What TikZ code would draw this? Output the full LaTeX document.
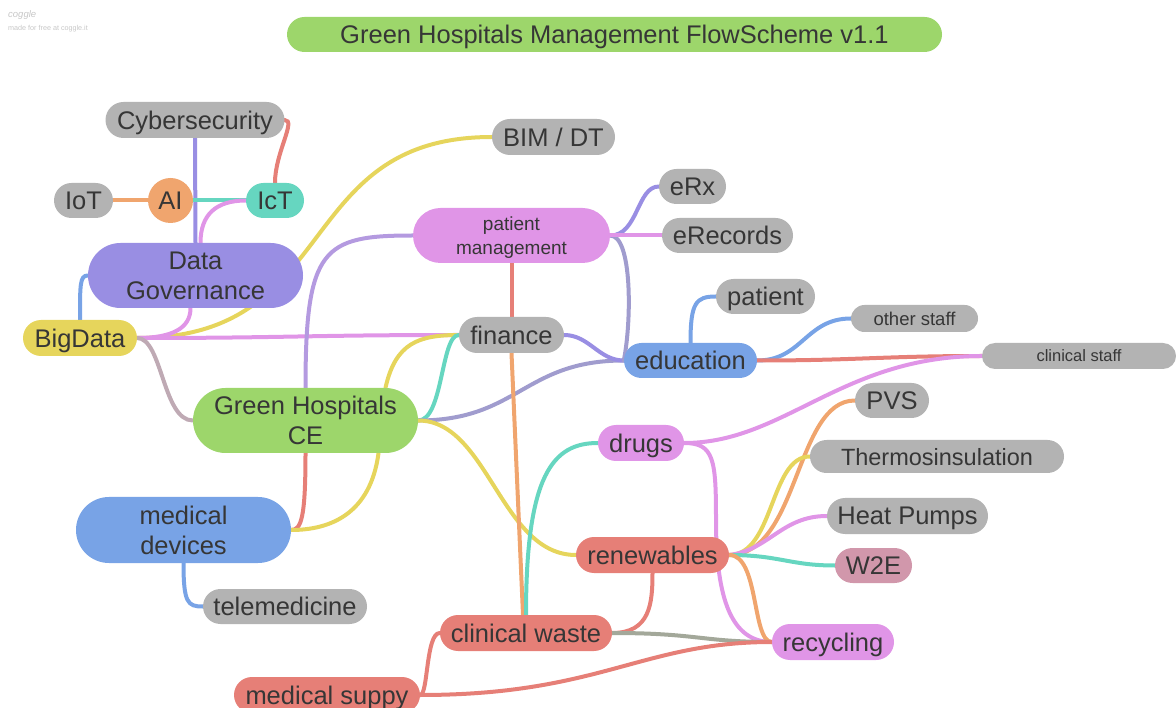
\documentclass[tikz,border=0pt]{standalone}
\usepackage{fontspec}
\setmainfont{Liberation Sans}
\usetikzlibrary{shapes.misc,backgrounds}
\definecolor{cgray}{HTML}{B3B3B3}
\definecolor{cgreen}{HTML}{9DD66B}
\definecolor{cpurple}{HTML}{998EE3}
\definecolor{corange}{HTML}{F0A56E}
\definecolor{cteal}{HTML}{66D6C0}
\definecolor{cyellow}{HTML}{E6D55C}
\definecolor{cpink}{HTML}{E095E7}
\definecolor{cblue}{HTML}{78A3E6}
\definecolor{cred}{HTML}{E67F77}
\definecolor{cmauve}{HTML}{D197AB}
\definecolor{clav}{HTML}{B49AE0}
\definecolor{cmgray}{HTML}{BFAAB4}
\definecolor{cslate}{HTML}{A09CCE}
\definecolor{cgg}{HTML}{A3A89A}
\definecolor{ctext}{HTML}{363636}
\tikzset{
  pill/.style={rounded rectangle, inner sep=0pt, text=ctext, align=center,
    text depth=0pt, font=\fontsize{25.5}{30}\selectfont},
  br/.style={line width=4pt, line cap=round},
}
\begin{document}
\begin{tikzpicture}[x=1pt,y=-1pt]
\useasboundingbox (0,0) rectangle (1176,708);
% watermark
\node[anchor=west, inner sep=0pt, text=black!22, font=\fontsize{9.5}{10}\selectfont\itshape] (wm1) at (8,15) {coggle};
\node[anchor=west, inner sep=0pt, text=black!22, font=\fontsize{7.2}{8}\selectfont] (wm2) at (8,28.5) {made for free at coggle.it};
% nodes
\node[pill, fill=cgreen, minimum width=655, minimum height=35] (title) at (614.5,34.5) {Green Hospitals Management FlowScheme v1.1};
\node[pill, fill=cgray, minimum width=179, minimum height=36] (cyber) at (195,120) {Cybersecurity};
\node[pill, fill=cgray, minimum width=59, minimum height=35] (iot) at (83.5,200.5) {IoT};
\node[pill, fill=corange, minimum width=41, minimum height=45] (ai) at (170.5,200.5) {AI};
\node[pill, fill=cteal, minimum width=58, minimum height=35] (ict) at (275,200.5) {IcT};
\node[pill, fill=cpurple, minimum width=215, minimum height=65] (dg) at (195.5,275.5) {Data\\Governance};
\node[pill, fill=cyellow, minimum width=114, minimum height=36] (bigdata) at (80,338) {BigData};
\node[pill, fill=cgray, minimum width=123, minimum height=36] (bim) at (553.5,137) {BIM / DT};
\node[pill, fill=cpink, minimum width=197, minimum height=55, font=\fontsize{19}{24}\selectfont] (pm) at (511.5,235.5) {patient\\management};
\node[pill, fill=cgray, minimum width=67, minimum height=35] (erx) at (692.5,186.5) {eRx};
\node[pill, fill=cgray, minimum width=131, minimum height=35] (erec) at (727.5,235.5) {eRecords};
\node[pill, fill=cgray, minimum width=105, minimum height=36] (finance) at (511.5,335) {finance};
\node[pill, fill=cblue, minimum width=133, minimum height=35] (edu) at (690.5,360.5) {education};
\node[pill, fill=cgray, minimum width=99, minimum height=35] (patient) at (765.5,296.5) {patient};
\node[pill, fill=cgray, minimum width=127, minimum height=27, font=\fontsize{18.5}{20}\selectfont] (other) at (914.5,318.5) {other staff};
\node[pill, fill=cgray, minimum width=194, minimum height=26, font=\fontsize{16.5}{18}\selectfont] (clin) at (1079,356) {clinical staff};
\node[pill, fill=cgreen, minimum width=225, minimum height=65] (gh) at (305.5,420.5) {Green Hospitals\\CE};
\node[pill, fill=cpink, minimum width=86, minimum height=36] (drugs) at (641,443) {drugs};
\node[pill, fill=cgray, minimum width=74, minimum height=35] (pvs) at (892,400.5) {PVS};
\node[pill, fill=cgray, minimum width=254, minimum height=33, font=\fontsize{23.5}{28}\selectfont] (thermo) at (937,456.5) {Thermosinsulation};
\node[pill, fill=cgray, minimum width=161, minimum height=36] (heat) at (907.5,516) {Heat Pumps};
\node[pill, fill=cmauve, minimum width=77, minimum height=35] (w2e) at (873.5,565.5) {W2E};
\node[pill, fill=cred, minimum width=153, minimum height=36] (ren) at (652.5,555) {renewables};
\node[pill, fill=cblue, minimum width=215, minimum height=66] (md) at (183.5,530) {medical\\devices};
\node[pill, fill=cgray, minimum width=164, minimum height=35] (tele) at (285,606.5) {telemedicine};
\node[pill, fill=cred, minimum width=172, minimum height=36] (cw) at (526,633) {clinical waste};
\node[pill, fill=cpink, minimum width=122, minimum height=36] (rec) at (833,642) {recycling};
\node[pill, fill=cred, minimum width=186, minimum height=36] (ms) at (327,695) {medical suppy};
\coordinate (dbend) at (716,520);
% branches
\begin{pgfonlayer}{background}
\draw[br, cpurple] (cyber.south) -- (dg.north);
\draw[br, cred] (cyber.east) .. controls +(12,0) and +(0,-30) .. (ict.north);
\draw[br, corange] (iot.east) -- (ai.west);
\draw[br, cteal] (ai.east) -- (ict.west);
\draw[br, cpink] (ict.west) .. controls +(-30,0) and +(0,-28) .. ([xshift=5pt]dg.north);
\draw[br, cblue] (bigdata.north) .. controls +(0,-35) and +(-8,0) .. (dg.west);
\draw[br, cyellow] (bigdata.east) .. controls +(205,0) and +(-200,0) .. (bim.west);
\draw[br, cpink] (bigdata.east) .. controls +(35,0) and +(0,20) .. ([xshift=-5pt]dg.south);
\draw[br, cpink] (bigdata.east) .. controls +(150,0) and +(-150,0) .. (finance.west);
\draw[br, cmgray] (bigdata.east) .. controls +(25,0) and +(-30,0) .. (gh.west);
\draw[br, clav] (gh.north) .. controls +(0,-140) and +(-90,0) .. (pm.west);
\draw[br, cyellow] ([xshift=80pt]gh.north) .. controls +(10,-45) and +(-40,0) .. (finance.west);
\draw[br, cteal] (gh.east) .. controls +(25,0) and +(-18,0) .. (finance.west);
\draw[br, cslate] (gh.east) .. controls +(100,0) and +(-100,0) .. (edu.west);
\draw[br, cyellow] (gh.east) .. controls +(70,0) and +(-75,0) .. (ren.west);
\draw[br, cred] (gh.south) .. controls +(0,65) and +(10,0) .. (md.east);
\draw[br, cyellow] ([xshift=73pt]gh.south) .. controls +(-8,60) and +(40,0) .. (md.east);
\draw[br, cblue] (md.south) .. controls +(0,40) and +(-15,0) .. (tele.west);
\draw[br, cred] (pm.south) -- (finance.north);
\draw[br, corange] (finance.south) -- ([xshift=-3pt]cw.north);
\draw[br, cpurple] (finance.east) .. controls +(25,0) and +(-25,0) .. (edu.west);
\draw[br, cslate] (edu.west) .. controls +(8,-40) and +(22,0) .. (pm.east);
\draw[br, cpurple] (pm.east) .. controls +(28,0) and +(-22,0) .. (erx.west);
\draw[br, cpink] (pm.east) -- (erec.west);
\draw[br, cblue] (edu.north) .. controls +(0,-40) and +(-20,0) .. (patient.west);
\draw[br, cblue] (edu.east) .. controls +(45,0) and +(-45,0) .. (other.west);
\draw[br, cred] (edu.east) .. controls +(100,0) and +(-100,0) .. (clin.west);
\draw[br, cpink] (drugs.east) .. controls +(100,0) and +(-140,0) .. (clin.west);
\draw[br, cpink] (drugs.east) .. controls +(30,0) and +(0,-60) .. (dbend) .. controls +(0,80) and +(-40,0) .. (rec.west);
\draw[br, cteal] (cw.north) .. controls +(0,-140) and +(-45,0) .. (drugs.west);
\draw[br, corange] (ren.east) .. controls +(70,0) and +(-60,0) .. (pvs.west);
\draw[br, cyellow] (ren.east) .. controls +(45,0) and +(-40,0) .. (thermo.west);
\draw[br, cpink] (ren.east) .. controls +(40,-5) and +(-45,0) .. (heat.west);
\draw[br, cteal] (ren.east) .. controls +(50,0) and +(-45,0) .. (w2e.west);
\draw[br, corange] (ren.east) .. controls +(30,0) and +(-20,0) .. (rec.west);
\draw[br, cred] (cw.east) .. controls +(38,0) and +(0,30) .. (ren.south);
\draw[br, cgg] (cw.east) .. controls +(85,0) and +(-70,0) .. (rec.west);
\draw[br, cred] (ms.east) .. controls +(8,0) and +(-14,0) .. (cw.west);
\draw[br, cred] (ms.east) .. controls +(180,0) and +(-130,0) .. (rec.west);
\end{pgfonlayer}
\end{tikzpicture}
\end{document}
